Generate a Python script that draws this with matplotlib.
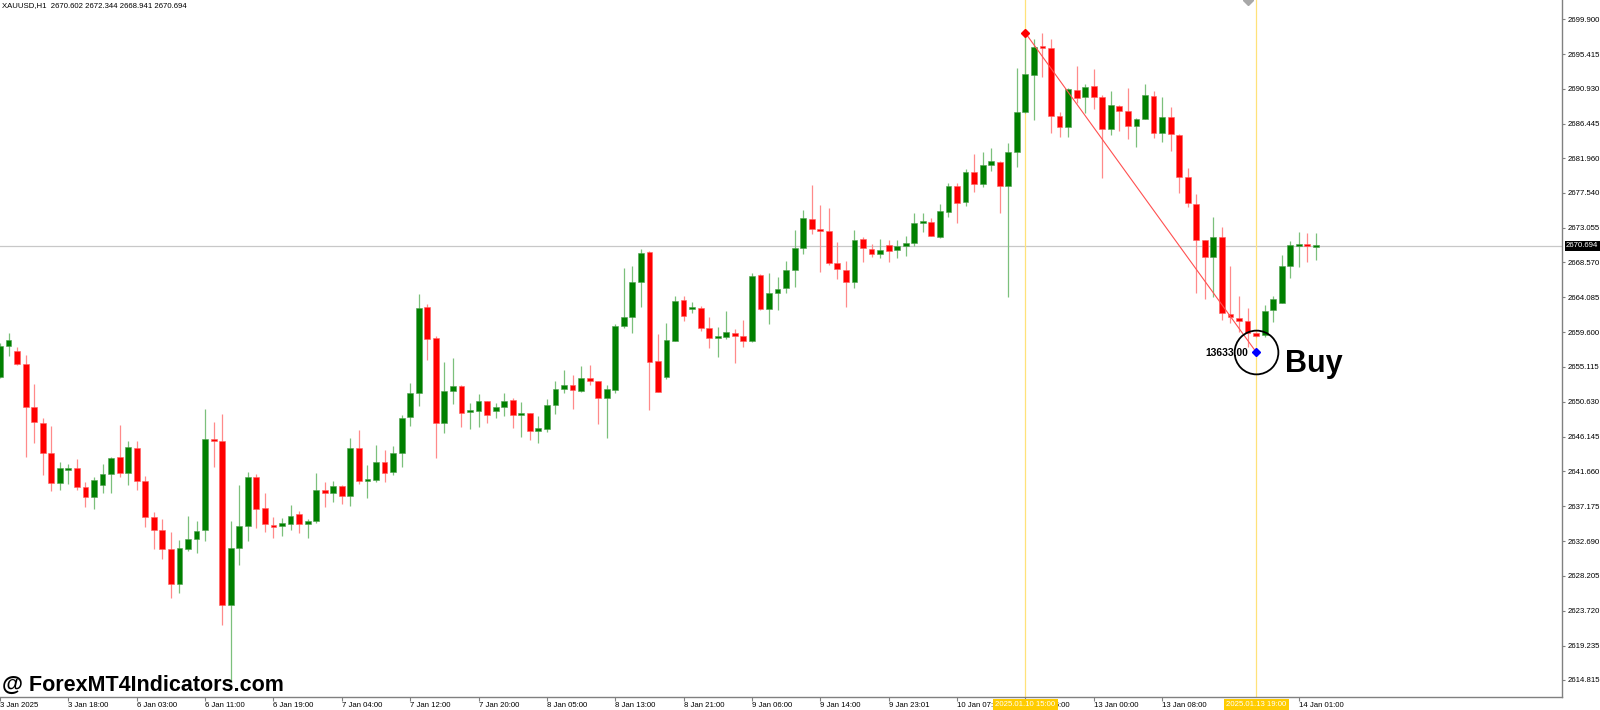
import matplotlib
matplotlib.use("Agg")
import matplotlib.pyplot as plt
import numpy as np

plt.rcParams['font.family'] = ['Liberation Sans', 'DejaVu Sans']

symbol = "XAUUSD,H1"

opens = [
2653.82, 2657.82, 2657.17, 2655.50, 2649.96, 2647.90, 2644.04, 2640.17, 2641.85, 2642.10,
2639.66, 2638.37, 2639.92, 2641.33, 2643.52, 2641.46, 2644.68, 2640.43, 2635.80, 2634.12,
2631.67, 2627.17, 2631.67, 2632.96, 2634.12, 2645.84, 2645.58, 2624.46, 2631.80, 2634.64,
2640.95, 2636.95, 2634.76, 2634.64, 2634.89, 2636.18, 2634.89, 2635.28, 2639.27, 2638.89,
2639.79, 2638.50, 2644.68, 2640.43, 2640.56, 2642.88, 2641.59, 2644.04, 2648.67, 2651.76,
2662.84, 2658.85, 2647.90, 2652.02, 2652.67, 2649.32, 2649.45, 2650.73, 2649.45, 2649.96,
2650.86, 2648.93, 2649.19, 2646.87, 2647.13, 2650.22, 2652.28, 2652.79, 2652.02, 2653.70,
2653.31, 2651.12, 2652.15, 2660.39, 2661.55, 2666.06, 2669.92, 2655.88, 2653.82, 2658.46,
2663.74, 2662.58, 2662.71, 2660.13, 2658.85, 2658.98, 2659.49, 2659.10, 2658.46, 2666.96,
2662.58, 2664.64, 2665.29, 2667.60, 2670.44, 2674.17, 2672.88, 2672.63, 2668.50, 2667.60,
2666.06, 2671.60, 2670.31, 2669.66, 2670.82, 2670.18, 2670.69, 2671.08, 2673.66, 2673.79,
2671.85, 2675.07, 2678.42, 2676.36, 2680.22, 2678.68, 2681.13, 2681.51, 2678.42, 2682.80,
2687.95, 2692.72, 2696.32, 2696.19, 2687.44, 2686.02, 2690.78, 2689.88, 2691.30, 2689.88,
2685.76, 2688.72, 2688.08, 2686.15, 2687.05, 2690.01, 2685.25, 2687.31, 2684.99, 2679.58,
2676.10, 2671.47, 2669.28, 2671.85, 2661.94, 2661.42, 2661.04, 2659.49, 2659.23, 2662.45,
2663.35, 2668.12, 2670.69, 2670.95, 2670.602]

highs = [
2658.20, 2659.49, 2657.69, 2656.66, 2652.92, 2648.54, 2647.51, 2642.88, 2642.62, 2643.26,
2640.30, 2640.95, 2642.62, 2643.52, 2647.64, 2645.58, 2645.58, 2641.07, 2636.44, 2635.54,
2633.86, 2632.83, 2635.92, 2635.28, 2649.70, 2648.03, 2649.06, 2635.28, 2639.92, 2641.59,
2641.33, 2638.89, 2635.80, 2635.67, 2637.34, 2636.57, 2635.54, 2641.46, 2640.30, 2640.43,
2639.92, 2645.97, 2647.00, 2642.49, 2645.07, 2644.42, 2644.94, 2648.93, 2653.05, 2664.51,
2663.23, 2659.10, 2655.76, 2656.27, 2652.79, 2650.48, 2651.63, 2650.73, 2650.48, 2651.76,
2651.12, 2650.60, 2649.19, 2648.80, 2650.99, 2653.31, 2654.73, 2654.08, 2655.24, 2655.37,
2653.31, 2652.79, 2660.65, 2667.86, 2668.12, 2670.31, 2670.05, 2659.36, 2660.78, 2664.26,
2664.26, 2663.48, 2662.97, 2661.55, 2660.26, 2662.32, 2660.01, 2661.16, 2667.22, 2667.09,
2667.22, 2666.70, 2668.76, 2672.75, 2675.33, 2678.55, 2675.97, 2675.59, 2671.21, 2668.76,
2672.75, 2671.85, 2670.95, 2671.60, 2671.47, 2671.47, 2671.98, 2674.94, 2674.94, 2674.30,
2676.10, 2678.81, 2678.81, 2680.61, 2682.54, 2682.80, 2683.32, 2681.64, 2683.96, 2693.62,
2698.12, 2697.35, 2698.12, 2697.35, 2687.95, 2691.04, 2693.87, 2691.56, 2693.49, 2690.14,
2690.65, 2688.85, 2691.04, 2687.18, 2691.56, 2690.65, 2689.88, 2688.59, 2685.12, 2680.74,
2677.39, 2671.47, 2674.43, 2673.14, 2668.12, 2664.26, 2662.71, 2659.62, 2663.10, 2664.26,
2669.54, 2671.34, 2672.50, 2672.37, 2672.344]

lows = [
2653.70, 2656.53, 2655.37, 2643.52, 2645.32, 2641.20, 2639.14, 2639.27, 2640.04, 2639.27,
2637.08, 2636.83, 2638.89, 2638.89, 2640.95, 2639.92, 2639.27, 2634.51, 2631.67, 2630.39,
2625.36, 2626.01, 2631.42, 2631.16, 2632.70, 2642.23, 2621.89, 2614.55, 2629.61, 2632.70,
2634.38, 2633.86, 2633.09, 2633.35, 2634.12, 2633.73, 2633.09, 2635.02, 2637.08, 2637.73,
2637.47, 2637.21, 2640.04, 2638.24, 2640.30, 2640.30, 2641.20, 2642.23, 2647.51, 2650.09,
2656.01, 2643.39, 2646.61, 2650.35, 2647.39, 2647.13, 2647.39, 2647.90, 2648.54, 2648.80,
2647.26, 2646.10, 2645.71, 2645.32, 2646.74, 2649.06, 2651.76, 2649.70, 2651.89, 2652.79,
2647.77, 2645.97, 2651.76, 2660.13, 2659.49, 2662.84, 2649.57, 2651.89, 2653.57, 2658.46,
2661.04, 2662.07, 2659.75, 2657.56, 2656.40, 2658.72, 2655.63, 2657.69, 2658.33, 2662.45,
2660.65, 2662.45, 2664.64, 2665.41, 2669.66, 2672.24, 2667.35, 2668.25, 2666.44, 2662.84,
2665.29, 2668.63, 2669.28, 2669.15, 2668.63, 2669.15, 2669.41, 2670.69, 2672.50, 2671.98,
2671.72, 2674.43, 2673.66, 2675.85, 2677.65, 2678.29, 2680.35, 2674.94, 2664.13, 2680.87,
2687.82, 2686.92, 2692.46, 2685.25, 2684.73, 2684.73, 2689.11, 2687.82, 2688.34, 2679.45,
2684.99, 2685.50, 2684.47, 2683.44, 2687.05, 2684.60, 2684.09, 2682.93, 2677.52, 2675.72,
2664.64, 2663.87, 2664.13, 2661.16, 2660.78, 2659.62, 2657.69, 2658.98, 2658.98, 2660.91,
2663.35, 2666.57, 2667.99, 2668.63, 2668.941]

closes = [
2657.82, 2658.59, 2655.50, 2649.96, 2648.03, 2644.04, 2640.17, 2642.10, 2641.98, 2639.66,
2638.37, 2640.56, 2641.33, 2643.39, 2641.46, 2644.81, 2640.43, 2635.80, 2634.12, 2631.67,
2627.17, 2631.80, 2632.96, 2633.99, 2645.84, 2645.58, 2624.46, 2631.80, 2634.64, 2640.95,
2636.83, 2634.89, 2634.51, 2635.02, 2635.92, 2634.89, 2635.28, 2639.27, 2638.89, 2639.79,
2638.50, 2644.68, 2640.43, 2640.69, 2642.88, 2641.46, 2644.04, 2648.54, 2651.76, 2662.71,
2658.72, 2647.90, 2652.02, 2652.67, 2649.19, 2649.45, 2650.73, 2648.93, 2649.96, 2650.73,
2648.93, 2649.06, 2646.87, 2647.26, 2650.22, 2652.28, 2652.79, 2652.15, 2653.70, 2653.31,
2651.12, 2652.28, 2660.39, 2661.55, 2666.06, 2669.79, 2655.76, 2651.89, 2658.59, 2663.61,
2661.68, 2662.71, 2660.13, 2658.85, 2658.98, 2659.62, 2659.10, 2658.46, 2666.83, 2662.58,
2664.64, 2665.16, 2667.60, 2670.44, 2674.30, 2672.88, 2672.63, 2668.50, 2667.73, 2666.06,
2671.47, 2670.44, 2669.66, 2670.18, 2670.05, 2670.69, 2671.08, 2673.66, 2673.79, 2671.98,
2675.20, 2678.42, 2676.23, 2680.22, 2678.68, 2681.13, 2681.64, 2678.42, 2682.80, 2687.95,
2692.84, 2696.32, 2696.19, 2687.44, 2686.02, 2690.91, 2689.75, 2691.17, 2689.88, 2685.76,
2688.85, 2688.08, 2686.15, 2687.05, 2690.14, 2685.25, 2687.31, 2685.12, 2679.58, 2676.23,
2671.47, 2669.28, 2671.85, 2662.07, 2661.55, 2661.04, 2659.49, 2659.10, 2662.32, 2663.87,
2668.12, 2670.82, 2670.95, 2670.69, 2670.694]

tick_idx = [0, 8, 16, 24, 32, 40, 48, 56, 64, 72, 80, 88, 96, 104, 112, 120, 128, 136, 152]
tick_labels = ["3 Jan 2025", "3 Jan 18:00", "6 Jan 03:00", "6 Jan 11:00", "6 Jan 19:00",
               "7 Jan 04:00", "7 Jan 12:00", "7 Jan 20:00", "8 Jan 05:00", "8 Jan 13:00",
               "8 Jan 21:00", "9 Jan 06:00", "9 Jan 14:00", "9 Jan 23:01", "10 Jan 07:00",
               "10 Jan 15:00", "13 Jan 00:00", "13 Jan 08:00", "14 Jan 01:00"]

price_ticks = [2699.900, 2695.415, 2690.930, 2686.445, 2681.960, 2677.540, 2673.055,
               2668.570, 2664.085, 2659.600, 2655.115, 2650.630, 2646.145, 2641.660,
               2637.175, 2632.690, 2628.205, 2623.720, 2619.235, 2614.815]

highlight_idx = [120, 147]
highlight_labels = ["2025.01.10 15:00", "2025.01.13 19:00"]

swing_idx = 120
swing_price = 2698.12
buy_idx = 147
buy_price = 2657.04
buy_value_label = "13633.00"
buy_text = "Buy"
watermark = "@ ForexMT4Indicators.com"

# ---------------------------------------------------------------
o = np.array(opens); h = np.array(highs); l = np.array(lows); c = np.array(closes)
x = np.arange(len(o))
up = c >= o

fig = plt.figure(figsize=(16, 7.1), dpi=100)
fig.patch.set_facecolor('white')
ax = fig.add_axes([0, 13 / 710, 1562 / 1600, 697 / 710])
ax.set_facecolor('white')

ax.set_xlim(0, 182.8)
ax.set_ylim(2612.61, 2702.37)

GREEN = '#008000'
RED = '#FF0000'
GREEN_W = '#7CC07C'
RED_W = '#FF8A8A'

# current price line
ax.axhline(c[-1], color='#C8C8C8', lw=0.9, zorder=1)

# vertical marker lines
for idx in highlight_idx:
    ax.axvline(idx, color='#FFE27A', lw=0.9, zorder=1)

# wicks
ax.vlines(x[up], l[up], h[up], colors=GREEN_W, lw=0.9, zorder=2)
ax.vlines(x[~up], l[~up], h[~up], colors=RED_W, lw=0.9, zorder=2)

# bodies
bot = np.minimum(o, c)
hgt = np.maximum(np.abs(c - o), 0.2)
ax.bar(x[up], hgt[up], bottom=bot[up], width=0.68, color=GREEN, edgecolor='#4FA04F',
       linewidth=0.4, zorder=3)
ax.bar(x[~up], hgt[~up], bottom=bot[~up], width=0.68, color=RED, edgecolor='#FF6060',
       linewidth=0.4, zorder=3)

# signal line and markers
ax.plot([swing_idx, buy_idx], [swing_price, buy_price], color='#FF5050', lw=0.8, zorder=4)
ax.plot(swing_idx, swing_price, marker='D', ms=4, color='#FF0000', zorder=5)
ax.plot(buy_idx, buy_price, marker='D', ms=4, color='#0000FF', zorder=6)
ax.plot(buy_idx, buy_price, marker='o', ms=31.5, mfc='none', mec='black', mew=1.3, zorder=6)
ax.annotate(buy_value_label, xy=(buy_idx, buy_price), xytext=(-8, -1),
            textcoords='offset pixels', ha='right', va='center',
            fontsize=7.4, fontweight='bold', color='black', zorder=7)
ax.annotate(buy_text, xy=(buy_idx, buy_price), xytext=(29, -20),
            textcoords='offset pixels', ha='left', va='baseline',
            fontsize=22, fontweight='bold', color='black', zorder=7)

# small gray marker at the top
ax.plot(146, ax.get_ylim()[1], marker='D', ms=5, color='#A8A8A8', zorder=5)

# header
ax.text(2 / 1562, 1 - 6 / 697,
        f"{symbol}  {o[-1]:.3f} {h[-1]:.3f} {l[-1]:.3f} {c[-1]:.3f}",
        transform=ax.transAxes, fontsize=5.6, ha='left', va='center', color='black')

# spines
for s in ['left', 'top']:
    ax.spines[s].set_visible(False)
for s in ['right', 'bottom']:
    ax.spines[s].set_color('#808080')
    ax.spines[s].set_linewidth(1.0)

# right price axis
ax.yaxis.tick_right()
ax.set_yticks(price_ticks)
ax.set_yticklabels([f"{p:.3f}" for p in price_ticks])
ax.tick_params(axis='y', direction='out', length=2.5, width=0.8, color='#808080',
               pad=1.5, labelsize=5.6, labelcolor='black')

# time axis
ax.set_xticks(tick_idx)
ax.set_xticklabels(tick_labels, ha='left')
ax.tick_params(axis='x', direction='out', length=3, width=0.8, color='#808080',
               pad=0.8, labelsize=5.6, labelcolor='black')

# current price label box
ax.annotate(f"{c[-1]:.3f}", xy=(1.0, c[-1]), xycoords=('axes fraction', 'data'),
            xytext=(4, 0), textcoords='offset pixels', ha='left', va='center',
            fontsize=5.6, color='white', zorder=10, annotation_clip=False,
            bbox=dict(boxstyle='square,pad=0.15', fc='black', ec='none'))

# highlighted time labels
for idx, lab in zip(highlight_idx, highlight_labels):
    ax.annotate(lab, xy=(idx, 0), xycoords=('data', 'axes fraction'),
                xytext=(0, -7.5), textcoords='offset pixels', ha='center', va='center',
                fontsize=5.6, color='white', zorder=10, annotation_clip=False,
                bbox=dict(boxstyle='square,pad=0.3', fc='#FFCC00', ec='none'))

# watermark
fig.text(2 / 1600, 1 - 685 / 710, watermark, fontsize=15.5, fontweight='bold',
         color='black', ha='left', va='center', zorder=20)

fig.savefig('out.png', dpi=100, facecolor='white')
